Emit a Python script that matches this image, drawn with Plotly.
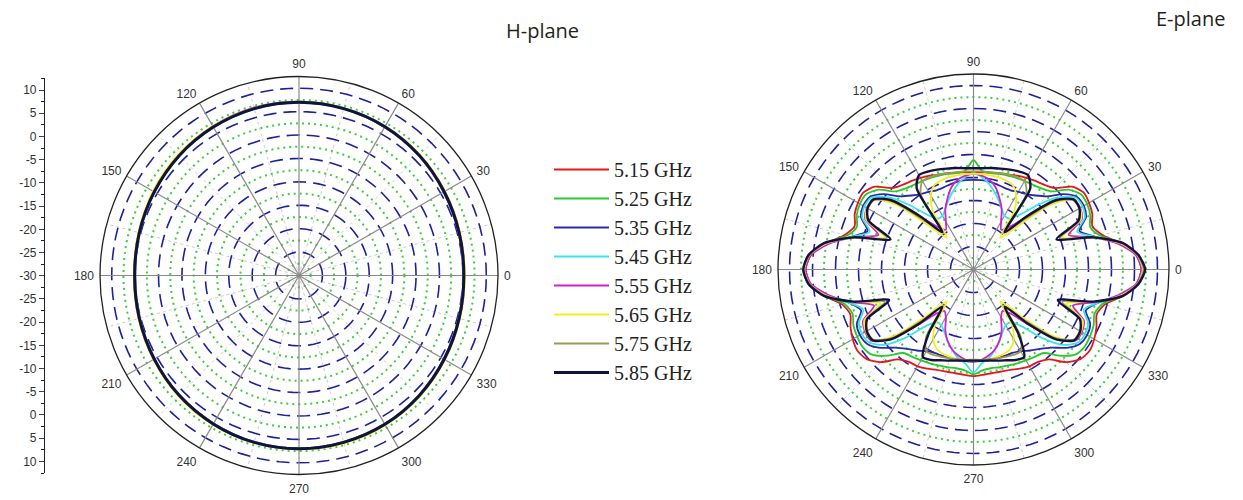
import plotly.graph_objects as go

# ---------------- data ----------------
freq_labels = ["5.15 GHz", "5.25 GHz", "5.35 GHz", "5.45 GHz",
               "5.55 GHz", "5.65 GHz", "5.75 GHz", "5.85 GHz"]
line_colors = ["#e3181e", "#2fc62f", "#2a2aa6", "#3ae4e8",
               "#d020d0", "#f4ee1a", "#9a9a52", "#12123e"]

# H-plane (dB), theta every 15 deg
h_theta = [0, 15, 30, 45, 60, 75, 90, 105, 120, 135, 150, 165,
           180, 195, 210, 225, 240, 255, 270, 285, 300, 315, 330, 345]
h_515 = [5.1, 5.3, 5.7, 6.2, 6.6, 6.9, 7.0, 6.9, 6.6, 6.2, 5.7, 5.3, 5.0, 5.2, 5.6, 6.1, 6.5, 6.8, 6.9, 6.8, 6.6, 6.2, 5.7, 5.3]
h_525 = [5.2, 5.4, 5.8, 6.3, 6.7, 7.0, 7.1, 7.0, 6.7, 6.3, 5.8, 5.4, 5.1, 5.3, 5.7, 6.2, 6.6, 6.9, 7.0, 6.9, 6.7, 6.3, 5.8, 5.4]
h_535 = [5.2, 5.4, 5.8, 6.3, 6.7, 6.9, 7.0, 6.9, 6.6, 6.2, 5.7, 5.3, 5.1, 5.3, 5.7, 6.2, 6.6, 6.9, 7.0, 6.9, 6.7, 6.3, 5.8, 5.4]
h_545 = [5.1, 5.3, 5.7, 6.2, 6.6, 6.8, 6.9, 6.8, 6.5, 6.1, 5.6, 5.2, 5.0, 5.2, 5.6, 6.1, 6.5, 6.8, 6.9, 6.8, 6.6, 6.2, 5.7, 5.3]
h_555 = [5.3, 5.5, 5.9, 6.4, 6.8, 7.0, 7.1, 7.1, 6.8, 6.3, 5.8, 5.4, 5.2, 5.4, 5.8, 6.3, 6.7, 7.0, 7.1, 7.0, 6.8, 6.4, 5.9, 5.5]
h_565 = [5.4, 5.6, 6.0, 6.5, 6.8, 7.0, 7.1, 7.0, 6.8, 6.5, 6.0, 5.5, 5.3, 5.5, 5.9, 6.4, 6.8, 7.0, 7.1, 7.1, 6.9, 6.5, 6.0, 5.6]
h_575 = [5.3, 5.5, 5.9, 6.3, 6.7, 6.9, 7.0, 6.9, 6.7, 6.3, 5.8, 5.4, 5.2, 5.4, 5.8, 6.3, 6.7, 6.9, 7.0, 6.9, 6.7, 6.3, 5.9, 5.5]
h_585 = [5.2, 5.4, 5.8, 6.3, 6.7, 6.9, 7.0, 6.9, 6.6, 6.2, 5.7, 5.3, 5.1, 5.3, 5.7, 6.2, 6.6, 6.9, 7.0, 6.9, 6.7, 6.3, 5.8, 5.4]

# E-plane (dB), theta every 5 deg (0..355)
e_theta = list(range(0, 360, 5))
e_515 = [6.5, 5.5, 2.5, -1.0, -2.5, -1.5, -1.0, -0.8, -2.0, -5.0, -6.0, -6.5, -7.0, -7.5, -8.0, -8.3, -8.6, -8.8, -9.0,
         -8.8, -8.6, -8.3, -8.0, -7.5, -7.0, -6.5, -6.0, -5.0, -2.0, -0.8, -1.0, -1.5, -2.5, -1.0, 2.5, 5.5, 6.5,
         5.6, 3.0, -0.5, -1.5, -0.5, 0.3, 0.8, 0.3, -1.5, -4.5, -5.5, -5.7, -6.2, -6.8, -7.0, -7.1, -7.0, -6.8,
         -7.0, -7.1, -7.0, -6.8, -6.2, -5.7, -5.5, -4.5, -1.5, 0.3, 0.8, 0.3, -0.5, -1.5, -0.5, 3.0, 5.6]
e_525 = [6.8, 5.8, 2.8, -1.5, -3.0, -2.0, -1.5, -1.5, -3.0, -6.0, -7.0, -7.5, -7.8, -8.0, -8.3, -8.5, -8.7, -8.5, -6.2,
         -8.5, -8.7, -8.5, -8.3, -8.0, -7.8, -7.5, -7.0, -6.0, -3.0, -1.5, -1.5, -2.0, -3.0, -1.5, 2.8, 5.8, 6.8,
         5.8, 2.8, -1.0, -2.0, -1.2, -0.8, -0.6, -1.2, -3.5, -6.3, -6.8, -7.2, -7.5, -7.8, -8.0, -8.2, -8.0, -7.2,
         -8.0, -8.2, -8.0, -7.8, -7.5, -7.2, -6.8, -6.3, -3.5, -1.2, -0.6, -0.8, -1.2, -2.0, -1.0, 2.8, 5.8]
e_535 = [7.0, 6.0, 2.5, -2.5, -5.5, -3.0, -2.3, -2.5, -4.5, -7.5, -9.0, -10.0, -10.5, -11.0, -11.0, -10.8, -10.6, -10.5, -10.5,
         -10.5, -10.6, -10.8, -11.0, -11.0, -10.5, -10.0, -9.0, -7.5, -4.5, -2.5, -2.3, -3.0, -5.5, -2.5, 2.5, 6.0, 7.0,
         6.0, 2.5, -2.0, -4.0, -2.0, -1.5, -1.8, -3.5, -6.0, -7.5, -8.5, -9.5, -10.0, -10.0, -10.0, -10.0, -10.0, -10.0,
         -10.0, -10.0, -10.0, -10.0, -10.0, -9.5, -8.5, -7.5, -6.0, -3.5, -1.8, -1.5, -2.0, -4.0, -2.0, 2.5, 6.0]
e_545 = [6.8, 5.8, 2.5, -2.5, -6.0, -3.3, -2.6, -2.8, -5.5, -10.0, -14.5, -16.5, -16.5, -15.5, -14.0, -12.5, -11.0, -9.8, -9.0,
         -9.8, -11.0, -12.5, -14.0, -15.5, -16.5, -16.5, -14.5, -10.0, -5.5, -2.8, -2.6, -3.3, -6.0, -2.5, 2.5, 5.8, 6.8,
         5.8, 2.5, -2.0, -4.5, -2.5, -2.0, -2.3, -4.5, -9.0, -14.0, -16.0, -16.0, -15.0, -13.5, -12.0, -10.5, -9.5, -7.6,
         -9.5, -10.5, -12.0, -13.5, -15.0, -16.0, -16.0, -14.0, -9.0, -4.5, -2.3, -2.0, -2.5, -4.5, -2.0, 2.5, 5.8]
e_555 = [6.5, 5.5, 2.0, -3.0, -8.0, -4.0, -3.2, -3.5, -7.5, -14.0, -18.0, -19.5, -18.0, -15.5, -13.5, -11.5, -10.2, -9.5, -9.2,
         -9.5, -10.2, -11.5, -13.5, -15.5, -18.0, -19.5, -18.0, -14.0, -7.5, -3.5, -3.2, -4.0, -8.0, -3.0, 2.0, 5.5, 6.5,
         5.5, 2.0, -2.5, -7.0, -3.5, -2.8, -3.0, -6.5, -13.0, -17.5, -19.0, -18.0, -15.5, -13.5, -12.0, -11.0, -10.3, -10.0,
         -10.3, -11.0, -12.0, -13.5, -15.5, -18.0, -19.0, -17.5, -13.0, -6.5, -3.0, -2.8, -3.5, -7.0, -2.5, 2.0, 5.5]
e_565 = [6.8, 5.8, 2.5, -3.0, -9.5, -4.2, -3.3, -3.5, -8.0, -17.0, -21.0, -14.5, -11.5, -9.8, -9.4, -9.2, -9.2, -9.2, -9.2,
         -9.2, -9.2, -9.2, -9.4, -9.8, -11.5, -14.5, -21.0, -17.0, -8.0, -3.5, -3.3, -4.2, -9.5, -3.0, 2.5, 5.8, 6.8,
         5.8, 2.5, -2.8, -8.5, -3.8, -3.0, -3.2, -7.5, -16.0, -21.0, -15.5, -12.5, -11.0, -10.5, -10.3, -10.2, -10.2, -10.2,
         -10.2, -10.2, -10.3, -10.5, -11.0, -12.5, -15.5, -21.0, -16.0, -7.5, -3.2, -3.0, -3.8, -8.5, -2.8, 2.5, 5.8]
e_575 = [7.0, 5.8, 2.8, -3.0, -10.0, -4.6, -3.5, -3.6, -7.0, -15.0, -19.0, -10.0, -7.8, -7.8, -8.0, -8.3, -8.5, -8.6, -8.7,
         -8.6, -8.5, -8.3, -8.0, -7.8, -7.8, -10.0, -19.0, -15.0, -7.0, -3.6, -3.5, -4.6, -10.0, -3.0, 2.8, 5.8, 7.0,
         5.8, 2.8, -2.8, -9.5, -4.3, -3.3, -3.4, -6.8, -14.5, -19.0, -12.0, -9.5, -9.5, -9.8, -10.0, -10.2, -10.3, -10.4,
         -10.3, -10.2, -10.0, -9.8, -9.5, -9.5, -12.0, -19.0, -14.5, -6.8, -3.4, -3.3, -4.3, -9.5, -2.8, 2.8, 5.8]
e_585 = [7.3, 6.0, 3.0, -3.0, -10.8, -4.8, -3.4, -3.4, -6.5, -13.7, -19.5, -8.5, -6.3, -6.5, -6.9, -7.3, -7.6, -7.9, -8.0,
         -7.9, -7.6, -7.3, -6.9, -6.5, -6.3, -8.5, -19.5, -13.7, -6.5, -3.4, -3.4, -4.8, -10.8, -3.0, 3.0, 6.0, 7.0,
         6.0, 3.0, -3.0, -10.5, -4.5, -3.2, -3.2, -6.3, -13.5, -19.5, -13.0, -8.0, -8.3, -9.0, -9.5, -9.9, -10.1, -10.2,
         -10.1, -9.9, -9.5, -9.0, -8.3, -8.0, -13.0, -19.5, -13.5, -6.3, -3.2, -3.2, -4.5, -10.5, -3.0, 3.0, 6.0]

h_series = [h_515, h_525, h_535, h_545, h_555, h_565, h_575, h_585]
e_series = [e_515, e_525, e_535, e_545, e_555, e_565, e_575, e_585]

# grid / axis definitions
db_range = [-30, 12.5]
dashed_rings = [-25, -20, -15, -10, -5, 0, 5, 10]
dotted_rings = [-27.5, -22.5, -17.5, -12.5, -7.5, -2.5, 2.5, 7.5]
major_spokes = [0, 30, 60, 90, 120, 150, 180, 210, 240, 270, 300, 330]
minor_spokes = [15, 45, 75, 105, 135, 165, 195, 225, 255, 285, 315, 345]
angle_ticks = [0, 15, 30, 45, 60, 75, 90, 105, 120, 135, 150, 165,
               180, 195, 210, 225, 240, 255, 270, 285, 300, 315, 330, 345]
angle_labels = ["0", "", "30", "", "60", "", "90", "", "120", "", "150", "",
                "180", "", "210", "", "240", "", "270", "", "300", "", "330", ""]
scale_pos = [-40, -35, -30, -25, -20, -15, -10, -5, 0, 5, 10, 15, 20, 25, 30, 35, 40]
scale_labels = ["10", "5", "0", "-5", "-10", "-15", "-20", "-25", "-30",
                "-25", "-20", "-15", "-10", "-5", "0", "5", "10"]

ring_theta = list(range(0, 361, 3))

fig = go.Figure()


def ring_trace(vals, color, dash, width, subplot):
    th, rr = [], []
    for v in vals:
        th += ring_theta + [None]
        rr += [v] * len(ring_theta) + [None]
    return go.Scatterpolar(r=rr, theta=th, mode="lines", subplot=subplot,
                           line=dict(color=color, width=width, dash=dash),
                           hoverinfo="skip", showlegend=False, connectgaps=False)


def spoke_trace(angles, color, dash, width, subplot):
    th, rr = [], []
    for a in angles:
        th += [a, a, None]
        rr += [db_range[0], db_range[1], None]
    return go.Scatterpolar(r=rr, theta=th, mode="lines", subplot=subplot,
                           line=dict(color=color, width=width, dash=dash),
                           hoverinfo="skip", showlegend=False, connectgaps=False)


for sp in ["polar", "polar2"]:
    fig.add_trace(spoke_trace(minor_spokes, "#cbcbcb", "3px,3px", 1, sp))
    fig.add_trace(ring_trace(dotted_rings, "#3fcc3f", "2px,4px", 2, sp))
    fig.add_trace(ring_trace(dashed_rings, "#20209a", "13px,7px", 1.6, sp))
    fig.add_trace(spoke_trace(major_spokes, "#8a8a8a", "solid", 1.2, sp))

for i, lab in enumerate(freq_labels):
    fig.add_trace(go.Scatterpolar(
        r=h_series[i] + [h_series[i][0]], theta=h_theta + [360],
        mode="lines", subplot="polar", name=lab, legendgroup=lab,
        line=dict(color=line_colors[i], width=3 if i == 7 else 2,
                  shape="spline", smoothing=1.0),
        showlegend=True))

for i, lab in enumerate(freq_labels):
    fig.add_trace(go.Scatterpolar(
        r=e_series[i] + [e_series[i][0]], theta=e_theta + [360],
        mode="lines", subplot="polar2", name=lab, legendgroup=lab,
        line=dict(color=line_colors[i], width=2.4 if i == 7 else 1.8,
                  shape="spline", smoothing=0.7),
        showlegend=False))

# left dB scale (cartesian axis)
fig.add_trace(go.Scatter(x=[0, 0], y=[scale_pos[0], scale_pos[-1]], mode="lines",
                         line=dict(color="rgba(0,0,0,0)"), hoverinfo="skip",
                         showlegend=False, xaxis="x", yaxis="y"))

angular_common = dict(rotation=0, direction="counterclockwise", tickmode="array",
                      tickvals=angle_ticks, ticktext=angle_labels, ticks="outside",
                      ticklen=3, tickcolor="rgba(0,0,0,0)", showgrid=False,
                      showline=True, linecolor="#222222", linewidth=1.3,
                      tickfont=dict(family="Liberation Sans, Arial", size=12, color="#333333"))
radial_common = dict(range=db_range, showline=False, showticklabels=False,
                     ticks="", showgrid=False)

W, H = 1243, 500
lc, lr, lcy = 299, 199, 275.5
rc, rrad, rcy = 973.5, 195.5, 269.5

fig.update_layout(
    width=W, height=H, margin=dict(l=0, r=0, t=0, b=0),
    paper_bgcolor="white", plot_bgcolor="white",
    polar=dict(domain=dict(x=[(lc - lr) / W, (lc + lr) / W],
                           y=[(H - lcy - lr) / H, (H - lcy + lr) / H]),
               bgcolor="white", angularaxis=angular_common, radialaxis=radial_common),
    polar2=dict(domain=dict(x=[(rc - rrad) / W, (rc + rrad) / W],
                            y=[(H - rcy - rrad) / H, (H - rcy + rrad) / H]),
                bgcolor="white", angularaxis=angular_common, radialaxis=radial_common),
    xaxis=dict(domain=[45 / W, 48 / W], visible=False, range=[0, 1]),
    yaxis=dict(domain=[27 / H, 422 / H], range=[-42.5, 42.6], tickmode="array",
               tickvals=scale_pos, ticktext=scale_labels, ticks="outside", ticklen=5,
               showline=True, linecolor="#222222", linewidth=1.2, showgrid=False,
               zeroline=False, tickfont=dict(family="Liberation Sans, Arial", size=12, color="#333333"),
               minor=dict(tickmode="linear", tick0=0, dtick=2.5, ticks="outside", ticklen=3,
                          tickcolor="#222222")),
    legend=dict(x=549 / W, y=1 - 150 / H, xanchor="left", yanchor="top",
                font=dict(family="Liberation Serif, Times New Roman, serif", size=20, color="#222222"),
                bgcolor="rgba(0,0,0,0)", itemwidth=55, tracegroupgap=0),
    annotations=[
        dict(text="H-plane", x=542 / W, y=1 - 30 / H, xref="paper", yref="paper",
             xanchor="center", yanchor="middle",
             showarrow=False, font=dict(family="Open Sans", size=20, color="#231f20")),
        dict(text="E-plane", x=1190 / W, y=1 - 18 / H, xref="paper", yref="paper",
             xanchor="center", yanchor="middle",
             showarrow=False, font=dict(family="Open Sans", size=20, color="#231f20")),
    ],
)

fig.write_html("out.html", config={"displayModeBar": False},
               post_script="document.body.style.margin='0px';")
